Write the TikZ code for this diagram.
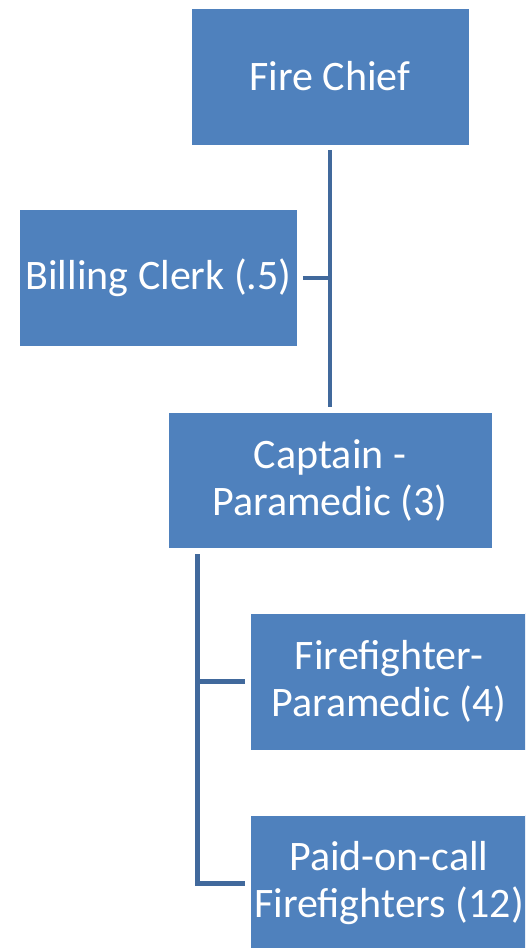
\documentclass[tikz,border=0pt]{standalone}
\usepackage{fontspec}
\setmainfont{Carlito}
\definecolor{boxblue}{HTML}{4F81BD}
\definecolor{lineblue}{HTML}{41699C}
\begin{document}
\begin{tikzpicture}[x=1pt,y=1pt,
  orgbox/.style={draw=white, line width=0.8pt, fill=boxblue, text=white, inner sep=0pt,
    minimum width=278pt, minimum height=137pt, align=center,
    font=\fontsize{42}{47}\selectfont},
  conn/.style={draw=lineblue, line width=4.6pt, line join=miter}]
\useasboundingbox (0,0) rectangle (525,-948);
\clip (0,0) rectangle (525,-948);
\node[orgbox] (chief) at (330,-76.5) {Fire Chief};
\node[orgbox] (billing) at (158.5,-278) {Billing Clerk (.5)};
\node[orgbox, minimum width=324pt, minimum height=136pt] (captain) at (330,-480) {Captain -\\Paramedic (3)};
\node[orgbox] (ff) at (389,-681.5) {Firefighter-\\Paramedic (4)};
\node[orgbox] (poc) at (389,-883.5) {Paid-on-call\\Firefighters (12)};
\draw[conn, shorten <=5pt, shorten >=5pt] (chief.south) -- (captain.north);
\draw[conn, shorten <=5pt] (billing.east) -- (billing.east -| chief.south);
\coordinate (trunk) at ([xshift=30pt,yshift=-6pt]captain.south west);
\draw[conn, shorten >=5pt] (trunk) |- (ff.west);
\draw[conn, shorten >=5pt] (trunk) |- (poc.west);
\end{tikzpicture}
\end{document}
